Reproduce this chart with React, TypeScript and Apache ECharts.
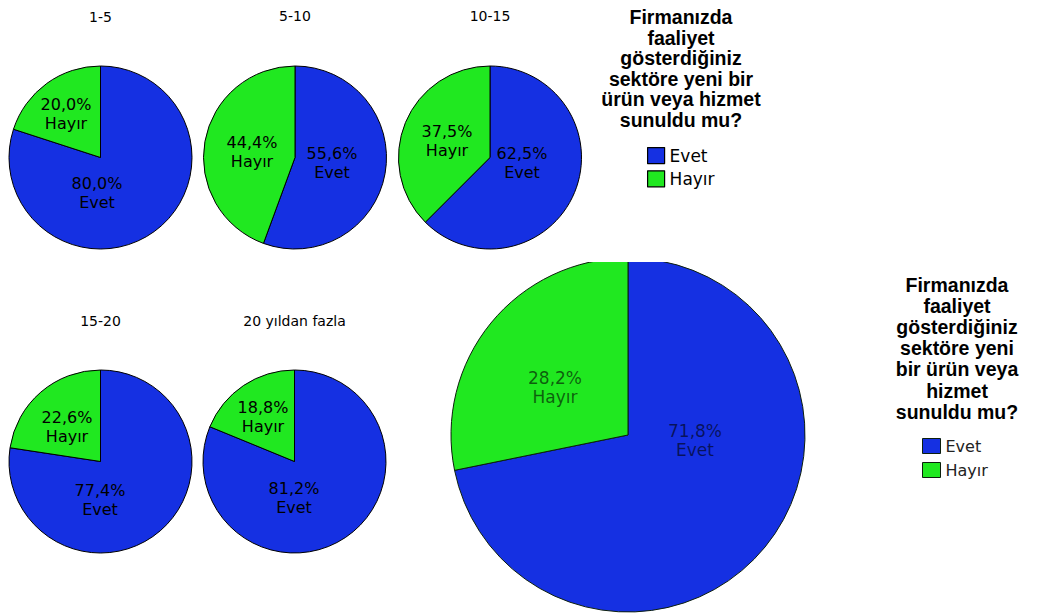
import React, { useEffect, useRef } from 'react';
import * as echarts from 'echarts';

// Answer categories and their shares (%) per company age group
const categories = ['Evet', 'Hayır'];
const groups = ['1-5', '5-10', '10-15', '15-20', '20 yıldan fazla'];
const evetShare = [80.0, 55.6, 62.5, 77.4, 81.2];
const hayirShare = [20.0, 44.4, 37.5, 22.6, 18.8];
// Shares over all firms
const overallShare = [71.8, 28.2];

const questionLines = ['Firmanızda', 'faaliyet', 'gösterdiğiniz', 'sektöre yeni bir', 'ürün veya hizmet', 'sunuldu mu?'];
const questionLinesWide = ['Firmanızda', 'faaliyet', 'gösterdiğiniz', 'sektöre yeni', 'bir ürün veya', 'hizmet', 'sunuldu mu?'];

const BLUE = '#1530e2';
const GREEN = '#20e820';

// Layout of the small pies: centre, title baseline and label spots (relative to centre)
const smallLayout = [
  { cx: 100.5, cy: 157.5, titleY: 17, spots: [[-3.5, 35], [-34.5, -43.5]] },
  { cx: 295, cy: 157.5, titleY: 16, spots: [[37, 5], [-43, -6]] },
  { cx: 490, cy: 157.5, titleY: 16, spots: [[32, 5], [-43, -17]] },
  { cx: 100.5, cy: 461.5, titleY: 321, spots: [[-0.5, 38.5], [-33.5, -34.5]] },
  { cx: 294.5, cy: 461.5, titleY: 321, spots: [[-0.5, 36.5], [-31.5, -44.5]] },
];
const SMALL_R = 91.5;
const bigLayout = { cx: 628, cy: 435, r: 177, spots: [[67, 5], [-73, -48]] };

const fmt = (v: number) => v.toFixed(1).replace('.', ',') + '%';

function makePie(
  values: number[],
  cx: number,
  cy: number,
  r: number,
  spots: number[][],
  big: boolean
) {
  return {
    type: 'pie',
    center: [cx, cy],
    radius: [0, r],
    startAngle: 90,
    clockwise: true,
    emphasis: { scale: false },
    itemStyle: {
      borderColor: big ? '#0d1f0d' : '#000',
      borderWidth: 1,
    },
    label: {
      show: true,
      position: 'inside',
      formatter: (p: any) => fmt(p.value) + '\n' + p.name,
      fontFamily: 'DejaVu Sans',
      fontSize: big ? 17 : 16,
      lineHeight: 19,
      color: big ? 'rgba(0,0,0,0.6)' : '#000',
    },
    labelLine: { show: false },
    labelLayout: (p: any) => {
      const s = spots[p.dataIndex];
      return { x: cx + s[0], y: cy + s[1], align: 'center', verticalAlign: 'middle' };
    },
    data: categories.map((name, i) => ({
      name,
      value: values[i],
      itemStyle: { color: i === 0 ? BLUE : GREEN },
    })),
  };
}

function textBlock(lines: string[], cx: number, firstY: number, step: number) {
  return lines.map((t, i) => ({
    type: 'text',
    x: cx,
    y: firstY + i * step,
    style: {
      text: t,
      fill: '#000',
      font: 'bold 19.5px "Liberation Sans", Arial, sans-serif',
      textAlign: 'center',
      textVerticalAlign: 'middle',
    },
  }));
}

export default function App() {
  const ref = useRef<HTMLDivElement>(null);

  useEffect(() => {
    if (!ref.current) return;
    const chart = echarts.init(ref.current, null, { renderer: 'svg' });

    const series: any[] = groups.map((g, i) =>
      makePie([evetShare[i], hayirShare[i]], smallLayout[i].cx, smallLayout[i].cy, SMALL_R, smallLayout[i].spots, false)
    );
    series.push(makePie(overallShare, bigLayout.cx, bigLayout.cy, bigLayout.r, bigLayout.spots, true));

    const titles = groups.map((g, i) => ({
      type: 'text',
      x: smallLayout[i].cx,
      y: smallLayout[i].titleY,
      style: {
        text: g,
        fill: '#000',
        font: '14px "DejaVu Sans", sans-serif',
        textAlign: 'center',
        textVerticalAlign: 'middle',
      },
    }));

    chart.setOption({
      animation: false,
      backgroundColor: '#fff',
      legend: [
        {
          data: categories,
          orient: 'vertical',
          left: 647,
          top: 147,
          padding: 0,
          itemWidth: 17,
          itemHeight: 16,
          itemGap: 6,
          icon: 'rect',
          itemStyle: { borderColor: '#000', borderWidth: 1.2 },
          textStyle: { fontFamily: 'DejaVu Sans', fontSize: 17, lineHeight: 16, color: '#000' },
        },
        {
          data: categories,
          orient: 'vertical',
          left: 922,
          top: 438,
          padding: 0,
          itemWidth: 18,
          itemHeight: 15,
          itemGap: 8,
          icon: 'rect',
          itemStyle: { borderColor: '#0d1f0d', borderWidth: 1 },
          textStyle: { fontFamily: 'DejaVu Sans', fontSize: 16, lineHeight: 15, color: '#222' },
        },
      ],
      series,
      graphic: [
        ...titles,
        ...textBlock(questionLines, 681, 17, 20.5),
        ...textBlock(questionLinesWide, 957, 285, 21.1),
        // the overall pie is cut off along its top edge
        {
          type: 'rect',
          shape: { x: 560, y: 250, width: 140, height: 12 },
          style: { fill: '#fff' },
          z: 100,
        },
      ],
    });

    return () => chart.dispose();
  }, []);

  return (
    <div
      ref={ref}
      style={{ position: 'absolute', left: 0, top: 0, width: 1038, height: 616, background: '#fff' }}
    />
  );
}
